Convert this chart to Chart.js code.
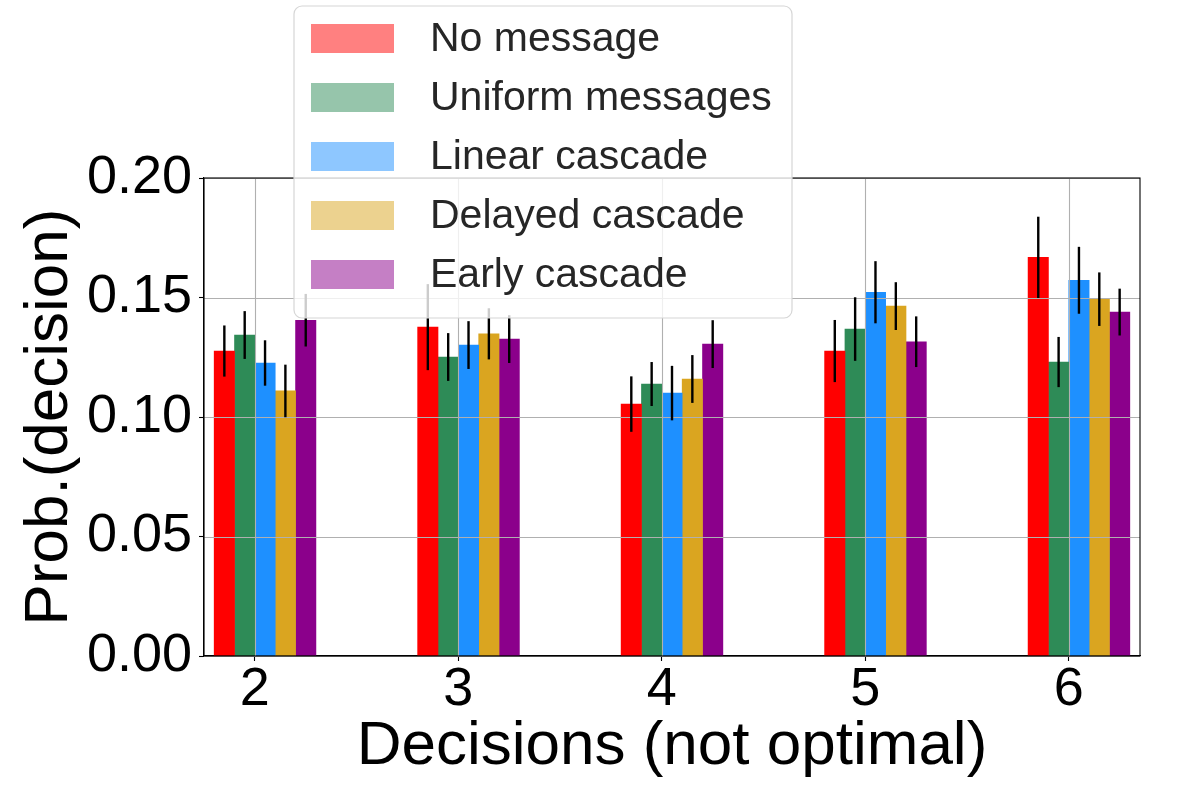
<!DOCTYPE html>
<html>
<head>
<meta charset="utf-8">
<script src="https://cdn.jsdelivr.net/npm/chart.js@4.4.1/dist/chart.umd.min.js"></script>
<style>
html, body { margin: 0; padding: 0; background: #ffffff; }
#wrap { width: 1200px; height: 800px; }
</style>
</head>
<body>
<div id="wrap"><canvas id="c" width="1200" height="800"></canvas></div>
<script>
// ---- data ----
const categories = [2, 3, 4, 5, 6];
const seriesLabels = ["No message", "Uniform messages", "Linear cascade", "Delayed cascade", "Early cascade"];
const noMessage      = [0.1276, 0.1376, 0.1054, 0.1276, 0.1668];
const noMessageErr   = [0.0107, 0.0180, 0.0116, 0.0130, 0.0170];
const uniform        = [0.1343, 0.1251, 0.1138, 0.1368, 0.1230];
const uniformErr     = [0.0100, 0.0100, 0.0092, 0.0133, 0.0105];
const linearCascade  = [0.1226, 0.1301, 0.1100, 0.1522, 0.1572];
const linearErr      = [0.0095, 0.0100, 0.0114, 0.0130, 0.0140];
const delayedCascade = [0.1109, 0.1348, 0.1159, 0.1464, 0.1493];
const delayedErr     = [0.0110, 0.0107, 0.0100, 0.0100, 0.0112];
const earlyCascade   = [0.1405, 0.1326, 0.1305, 0.1315, 0.1439];
const earlyErr       = [0.0110, 0.0100, 0.0100, 0.0106, 0.0098];
const yTickValues = [0.00, 0.05, 0.10, 0.15, 0.20];

// ---- styles ----
const barColors = ["#ff0000", "#2e8b57", "#1e90ff", "#daa520", "#8b008b"];
const legendColors = ["#ff8080", "#96c5ab", "#8ec7ff", "#ecd28f", "#c57fc5"];
const barWidthUnits = 0.1;
const seriesValues = [noMessage, uniform, linearCascade, delayedCascade, earlyCascade];
const seriesErrors = [noMessageErr, uniformErr, linearErr, delayedErr, earlyErr];

const FONT = "'Liberation Sans', Arial, Helvetica, sans-serif";
Chart.defaults.font.family = FONT;
Chart.defaults.color = "#000000";

const datasets = seriesValues.map((vals, s) => ({
  label: seriesLabels[s],
  data: categories.map((c, i) => ({ x: c + (s - 1.5) * barWidthUnits, y: vals[i] })),
  errors: seriesErrors[s],
  backgroundColor: barColors[s],
  borderWidth: 0,
  grouped: false,
  categoryPercentage: 1.0,
  barPercentage: 1.0
}));

const overlayPlugin = {
  id: "overlay",
  afterDatasetsDraw(chart) {
    const ctx = chart.ctx;
    const a = chart.chartArea;
    const xs = chart.scales.x, ys = chart.scales.y;
    ctx.save();
    // grid lines above bars
    ctx.strokeStyle = "#b0b0b0";
    ctx.lineWidth = 1.1;
    ctx.beginPath();
    yTickValues.forEach(v => {
      const y = Math.round(ys.getPixelForValue(v)) + 0.5;
      ctx.moveTo(a.left, y); ctx.lineTo(a.right, y);
    });
    categories.forEach(c => {
      const x = Math.round(xs.getPixelForValue(c)) + 0.5;
      ctx.moveTo(x, a.top); ctx.lineTo(x, a.bottom);
    });
    ctx.stroke();
    // error bars
    ctx.strokeStyle = "#000000";
    ctx.lineWidth = 2.4;
    chart.data.datasets.forEach((ds, di) => {
      const meta = chart.getDatasetMeta(di);
      meta.data.forEach((bar, i) => {
        const v = ds.data[i].y, e = ds.errors[i];
        ctx.beginPath();
        ctx.moveTo(bar.x, ys.getPixelForValue(v - e));
        ctx.lineTo(bar.x, ys.getPixelForValue(v + e));
        ctx.stroke();
      });
    });
    // spines
    ctx.strokeStyle = "#000000";
    ctx.lineWidth = 1.1;
    ctx.strokeRect(a.left, a.top, a.right - a.left, a.bottom - a.top);
    ctx.restore();
  },
  afterDraw(chart) {
    const ctx = chart.ctx;
    ctx.save();
    const bx = 294, by = 6, bw = 498, bh = 312, r = 8;
    ctx.beginPath();
    ctx.moveTo(bx + r, by);
    ctx.arcTo(bx + bw, by, bx + bw, by + bh, r);
    ctx.arcTo(bx + bw, by + bh, bx, by + bh, r);
    ctx.arcTo(bx, by + bh, bx, by, r);
    ctx.arcTo(bx, by, bx + bw, by, r);
    ctx.closePath();
    ctx.fillStyle = "rgba(255,255,255,0.8)";
    ctx.fill();
    ctx.strokeStyle = "#d6d6d6";
    ctx.lineWidth = 1.2;
    ctx.stroke();
    ctx.font = "41px " + FONT;
    ctx.textBaseline = "middle";
    ctx.textAlign = "left";
    chart.data.datasets.forEach((ds, i) => {
      const cy = 38.5 + i * 59;
      ctx.fillStyle = legendColors[i];
      ctx.fillRect(311, cy - 14.5, 83, 29);
      ctx.fillStyle = "#262626";
      ctx.fillText(ds.label, 430, cy + 1);
    });
    ctx.restore();
  }
};

new Chart(document.getElementById("c"), {
  type: "bar",
  data: { datasets },
  options: {
    responsive: false,
    animation: false,
    devicePixelRatio: 1,
    layout: { padding: { top: 178, right: 60, left: 0, bottom: 0 } },
    plugins: { legend: { display: false }, tooltip: { enabled: false } },
    scales: {
      x: {
        type: "linear",
        min: 1.75,
        max: 6.35,
        offset: false,
        afterFit: s => { s.height = 144; },
        afterBuildTicks: s => { s.ticks = categories.map(v => ({ value: v })); },
        grid: { display: true, drawOnChartArea: false, drawTicks: true, tickLength: 5, tickColor: "#000000", tickWidth: 1.1, offset: false },
        border: { display: true, color: "#000000", width: 1.1 },
        ticks: { font: { size: 54 }, color: "#000000", padding: -3, maxRotation: 0, autoSkip: false, callback: v => String(v) },
        title: { display: true, text: "Decisions (not optimal)", font: { size: 62 }, color: "#000000", padding: { top: 0, bottom: 16 } }
      },
      y: {
        type: "linear",
        min: 0,
        max: 0.2,
        afterFit: s => { s.width = 204; },
        afterBuildTicks: s => { s.ticks = yTickValues.map(v => ({ value: v })); },
        grid: { display: true, drawOnChartArea: false, drawTicks: true, tickLength: 5, tickColor: "#000000", tickWidth: 1.1 },
        border: { display: true, color: "#000000", width: 1.1 },
        ticks: { font: { size: 54 }, color: "#000000", padding: 7, autoSkip: false, callback: v => Number(v).toFixed(2) },
        title: { display: true, text: "Prob.(decision)", font: { size: 62 }, color: "#000000", padding: { top: 13, bottom: 0 } }
      }
    }
  },
  plugins: [overlayPlugin]
});
</script>
</body>
</html>
